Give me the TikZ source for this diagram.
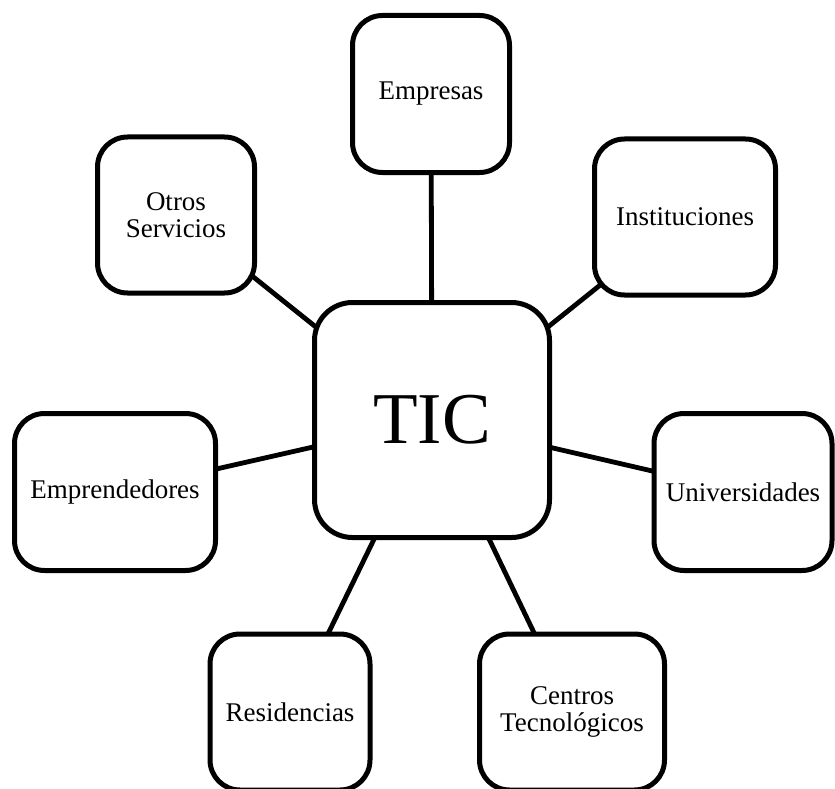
\documentclass[tikz,border=0pt]{standalone}
\usepackage{fontspec}
\setmainfont{Liberation Serif}
\usetikzlibrary{backgrounds}
\begin{document}
\begin{tikzpicture}[x=1pt,y=-1pt,
  box/.style={draw, line width=5pt, rounded corners=30pt, fill=white, align=center, inner sep=0pt, font=\fontsize{27}{27}\selectfont},
  hub/.style={box, rounded corners=38pt, font=\fontsize{73}{80}\selectfont},
  link/.style={line width=4.8pt}]
\useasboundingbox (0,0) rectangle (835,789);
\node[hub, minimum width=235pt, minimum height=235pt] (tic) at (432,420) {TIC};
\node[box, minimum width=157pt, minimum height=157pt] (emp) at (431,94) {Empresas};
\node[box, minimum width=181pt, minimum height=156pt] (inst) at (685,217) {Instituciones};
\node[box, minimum width=157pt, minimum height=156pt] (otros) at (176,215) {Otros\\Servicios};
\node[box, minimum width=201pt, minimum height=157pt] (empr) at (115,492) {Emprendedores};
\node[box, minimum width=178pt, minimum height=157pt] (univ) at (743,492) {Universidades};
\node[box, minimum width=160pt, minimum height=156pt] (res) at (290,712) {Residencias};
\node[box, minimum width=185pt, minimum height=156pt] (cent) at (572,712) {Centros\\Tecnológicos};
\begin{pgfonlayer}{background}
\draw[link] (tic.center) -- (emp.center);
\draw[link] (tic.center) -- (inst.center);
\draw[link] (tic.center) -- (otros.center);
\draw[link] (tic.center) -- (empr.center);
\draw[link] (tic.center) -- (univ.center);
\draw[link] (tic.center) -- (res.center);
\draw[link] (tic.center) -- (cent.center);
\end{pgfonlayer}
\end{tikzpicture}
\end{document}
